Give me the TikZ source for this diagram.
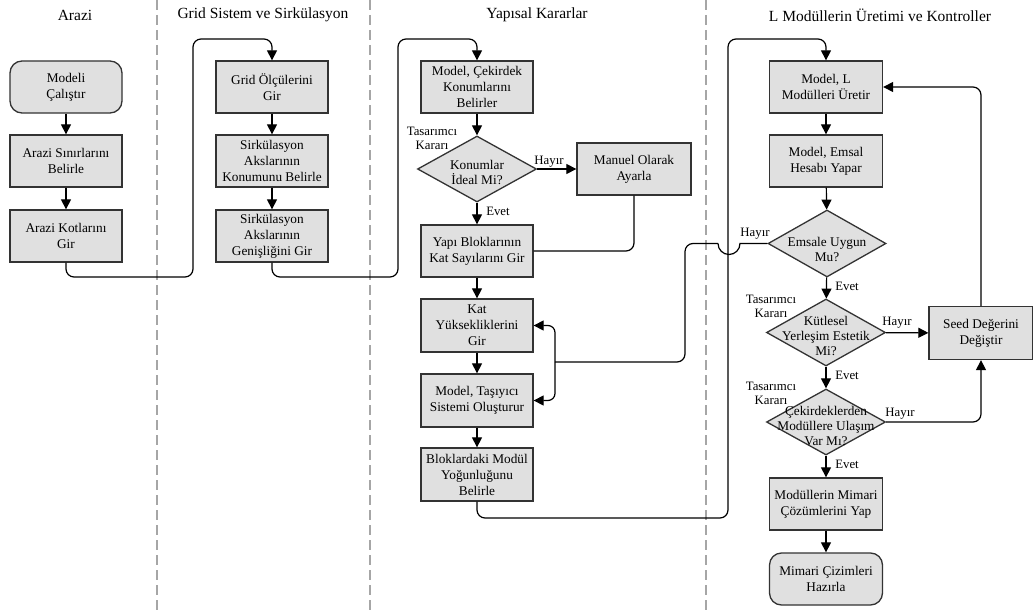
\documentclass[tikz,border=0pt]{standalone}
\usepackage{fontspec}
\setmainfont{Liberation Serif}
\usetikzlibrary{shapes.geometric,arrows.meta}

\begin{document}
\begin{tikzpicture}[x=1pt,y=-1pt,
  pbox/.style={draw=black!80,fill=black!12,line width=1.3pt,minimum width=112pt,
    minimum height=52pt,align=center,inner sep=1pt,
    font=\fontsize{13.3}{16}\selectfont,text=black},
  tbox/.style={pbox,rounded corners=12pt},
  dbox/.style={diamond,draw=black!80,fill=black!12,line width=1.3pt,
    minimum width=119pt,minimum height=66pt,inner sep=0pt},
  dtext/.style={align=center,font=\fontsize{13.3}{15}\selectfont,text=black,inner sep=0pt},
  conn/.style={line width=1.2pt,draw=black,-{Triangle[length=10pt,width=10pt]}},
  wire/.style={line width=1.2pt,draw=black},
  lbl/.style={font=\fontsize{12.8}{14}\selectfont,text=black,inner sep=0pt,align=center},
  coltitle/.style={font=\fontsize{15.5}{18}\selectfont,text=black},
  lane/.style={draw=black!35,line width=2.8pt,dash pattern=on 10pt off 5pt}
]
\useasboundingbox (0,0) rectangle (1033,610);

% swimlane separators
\draw[lane] (157,0) -- (157,610);
\draw[lane] (370,0) -- (370,610);
\draw[lane] (706,0) -- (706,610);

% lane titles
\node[coltitle] (t1) at (75,15) {Arazi};
\node[coltitle] (t2) at (263,15) {Grid Sistem ve Sirkülasyon};
\node[coltitle] (t3) at (537,15) {Yapısal Kararlar};
\node[coltitle] (t4) at (880,15) {L Modüllerin Üretimi ve Kontroller};

% Arazi
\node[tbox] (a1) at (66,87) {Modeli\\Çalıştır};
\node[pbox] (a2) at (66,161) {Arazi Sınırlarını\\Belirle};
\node[pbox] (a3) at (66,236) {Arazi Kotlarını\\Gir};

% Grid Sistem ve Sirkülasyon
\node[pbox] (g1) at (272,87) {Grid Ölçülerini\\Gir};
\node[pbox] (g2) at (272,161) {Sirkülasyon\\Akslarının\\Konumunu Belirle};
\node[pbox] (g3) at (272,236) {Sirkülasyon\\Akslarının\\Genişliğini Gir};

% Yapısal Kararlar
\node[pbox] (y1) at (477,87) {Model, Çekirdek\\Konumlarını\\Belirler};
\node[dbox] (yd) at (477,169) {};
\node[dtext] (ydt) at (477,172) {Konumlar\\İdeal Mi?};
\node[pbox,minimum width=114pt] (ym) at (634,169) {Manuel Olarak\\Ayarla};
\node[pbox] (y2) at (477,251) {Yapı Bloklarının\\Kat Sayılarını Gir};
\node[pbox,minimum height=53pt] (y3) at (477,325.5) {Kat\\Yüksekliklerini\\Gir};
\node[pbox,minimum height=53pt] (y4) at (477,400.5) {Model, Taşıyıcı\\Sistemi Oluşturur};
\node[pbox,minimum height=53pt] (y5) at (477,474.5) {Bloklardaki Modül\\Yoğunluğunu\\Belirle};

% L Modüllerin Üretimi ve Kontroller
\node[pbox,minimum width=113pt] (l1) at (826,87) {Model, L\\Modülleri Üretir};
\node[pbox,minimum width=113pt] (l2) at (826,161) {Model, Emsal\\Hesabı Yapar};
\node[dbox,minimum width=118pt,minimum height=67pt] (ld1) at (827,243.5) {};
\node[dtext] (ld1t) at (827,249) {Emsale Uygun\\Mu?};
\node[dbox,minimum height=67pt] (ld2) at (826,332.5) {};
\node[dtext] (ld2t) at (826,336) {Kütlesel\\Yerleşim Estetik\\Mi?};
\node[dbox] (ld3) at (826,422) {};
\node[dtext] (ld3t) at (826,426) {Çekirdeklerden\\Modüllere Ulaşım\\Var Mı?};
\node[pbox,minimum width=104pt,minimum height=53pt] (ls) at (981,333) {Seed Değerini\\Değiştir};
\node[pbox,minimum width=113pt] (l3) at (826,504) {Modüllerin Mimari\\Çözümlerini Yap};
\node[tbox,minimum width=113pt] (l4) at (826,579) {Mimari Çizimleri\\Hazırla};

% decision annotations
\node[lbl] (k1) at (432,138) {Tasarımcı\\Kararı};
\node[lbl] (k2) at (771,306) {Tasarımcı\\Kararı};
\node[lbl] (k3) at (771,393) {Tasarımcı\\Kararı};
\node[lbl] (h1) at (549,162) {Hayır};
\node[lbl] (h2) at (755,234) {Hayır};
\node[lbl] (h3) at (897,323) {Hayır};
\node[lbl] (h4) at (900,414) {Hayır};
\node[lbl] (e1) at (498,211) {Evet};
\node[lbl] (e2) at (847,286) {Evet};
\node[lbl] (e3) at (847,375) {Evet};
\node[lbl] (e4) at (847,464) {Evet};

% flow inside lanes
\draw[conn] (a1) -- (a2);
\draw[conn] (a2) -- (a3);
\draw[conn] (g1) -- (g2);
\draw[conn] (g2) -- (g3);
\draw[conn] (y1) -- (yd);
\draw[conn] (yd) -- (y2);
\draw[conn] (yd) -- (ym);
\draw[conn] (y2) -- (y3);
\draw[conn] (y3) -- (y4);
\draw[conn] (y4) -- (y5);
\draw[conn] (l1) -- (l2);
\draw[conn] (l2) -- (ld1);
\draw[conn] (ld1) -- (ld2);
\draw[conn] (ld2) -- (ld3);
\draw[conn] (ld2) -- (ls);
\draw[conn] (ld3) -- (l3);
\draw[conn] (l3) -- (l4);
\draw[wire,rounded corners=8pt] (ym.south) |- (y2.east);

% flow between lanes
\draw[conn,rounded corners=8pt] (a3.south) -- (66,277) -- (193,277) -- (193,39) -- (272,39) -- (g1.north);
\draw[conn,rounded corners=8pt] (g3.south) -- (272,277) -- (398,277) -- (398,39) -- (477,39) -- (y1.north);
\draw[conn,rounded corners=8pt] (y5.south) -- (477,518) -- (728,518) -- (728,39) -- (826,39) -- (l1.north);

% feedback loops
\draw[conn,rounded corners=8pt] (ls.north) |- (l1.east);
\draw[conn,rounded corners=8pt] (ld3.east) -| (ls.south);

% rejected floor-area check returns to the floor inputs, hopping over the lane link
\draw[wire] (ld1.west) -- (740,243.5) arc[start angle=0,end angle=-180,radius=11pt] -- (718,243.5);
\draw[wire,rounded corners=8pt] (718,243.5) -- (685,243.5) -- (685,362) -- (555,362);
\draw[conn,rounded corners=7pt] (555,362) |- (y3.east);
\draw[conn,rounded corners=7pt] (555,362) |- (y4.east);
\end{tikzpicture}
\end{document}
